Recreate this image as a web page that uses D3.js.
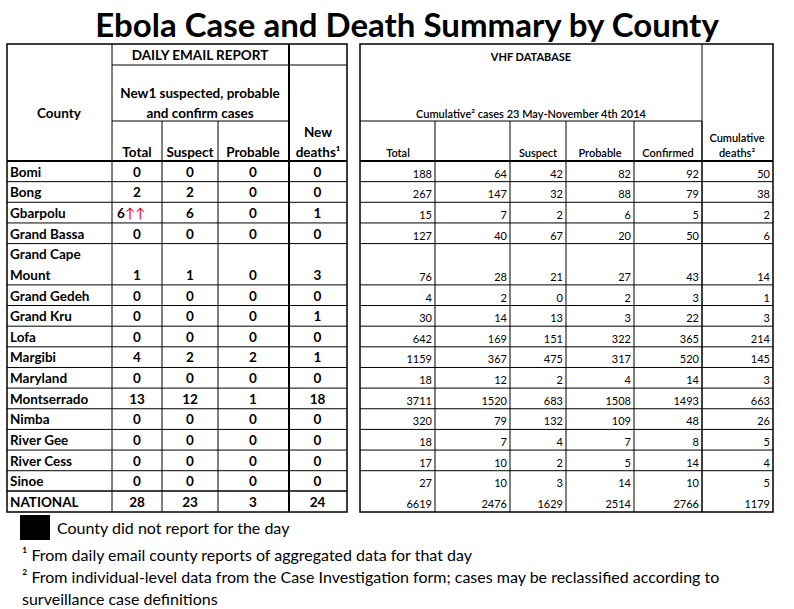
<!DOCTYPE html>
<html><head><meta charset="utf-8">
<script src="https://cdn.jsdelivr.net/npm/d3@7"></script>
<style>body{margin:0;background:#fff}svg{font-family:Lato,"Open Sans",sans-serif}</style>
</head><body>
<svg id="chart" width="794" height="609"></svg>
<script>
var counties = ["Bomi","Bong","Gbarpolu","Grand Bassa","Grand Cape Mount","Grand Gedeh","Grand Kru","Lofa","Margibi","Maryland","Montserrado","Nimba","River Gee","River Cess","Sinoe","NATIONAL"]
var rowSpans = [1,1,1,1,2,1,1,1,1,1,1,1,1,1,1,1]
var newTotal = [0,2,6,0,1,0,0,0,4,0,13,0,0,0,0,28]
var newSuspect = [0,2,6,0,1,0,0,0,2,0,12,0,0,0,0,23]
var newProbable = [0,0,0,0,0,0,0,0,2,0,1,0,0,0,0,3]
var newDeaths = [0,0,1,0,3,0,1,0,1,0,18,0,0,0,0,24]
var cumTotal = [188,267,15,127,76,4,30,642,1159,18,3711,320,18,17,27,6619]
var cumBlank = [64,147,7,40,28,2,14,169,367,12,1520,79,7,10,10,2476]
var cumSuspect = [42,32,2,67,21,0,13,151,475,2,683,132,4,2,3,1629]
var cumProbable = [82,88,6,20,27,2,3,322,317,4,1508,109,7,5,14,2514]
var cumConfirmed = [92,79,5,50,43,3,22,365,520,14,1493,48,8,14,10,2766]
var cumDeaths = [50,38,2,6,14,1,3,214,145,3,663,26,5,4,5,1179]

var svg = d3.select("#chart")

// row positions
var starts = [], acc = 0
rowSpans.forEach(function(s){ starts.push(acc); acc += s })
var y = d3.scaleLinear().domain([0, acc]).range([161, 512])

var leftEdges = [7,112,162,218,288,347]
var rightEdges = [360,435,510,566,634,702,773]

svg.append("text").attr("x",407).attr("y",37).attr("text-anchor","middle")
  .style("font-size","33px").style("font-weight","bold").text("Ebola Case and Death Summary by County")

function line(x1,y1,x2,y2,w){
  svg.append("line").attr("x1",x1).attr("y1",y1).attr("x2",x2).attr("y2",y2)
    .attr("stroke","#000").attr("stroke-width",w||1)
}

// left table frame
svg.append("rect").attr("x",7).attr("y",44).attr("width",340).attr("height",468).attr("fill","none").attr("stroke","#000").attr("stroke-width",1.5)
line(112,44,112,512); line(289,44,289,512,2)
line(112,65,347,65); line(112,121,289,121)
line(162,121,162,512); line(218,121,218,512)
line(7,161,347,161,2)
line(7,491,347,491,1.5)

// right table frame
svg.append("rect").attr("x",360).attr("y",44).attr("width",413).attr("height",468).attr("fill","none").attr("stroke","#000").attr("stroke-width",1.5)
line(702,44,702,512); line(360,121,702,121)
rightEdges.slice(1,-1).forEach(function(x){ line(x,121,x,512) })
line(360,161,773,161,2)

starts.forEach(function(s,i){
  if(i>0 && i<counties.length-1){ line(7,y(s),347,y(s)); line(360,y(s),773,y(s)) }
})

function ht(x,yy,t,size,anchor,bold){
  return svg.append("text").attr("x",x).attr("y",yy).attr("text-anchor",anchor||"middle")
    .style("font-size",size+"px").style("font-weight",bold?"bold":"normal").text(t)
}
// left headers
ht(59,118,"County",13.5,"middle",true)
ht(200,60,"DAILY EMAIL REPORT",13.5,"middle",true)
ht(200,98,"New1 suspected, probable",13.5,"middle",true)
ht(200,118,"and confirm cases",13.5,"middle",true)
ht(137,157,"Total",13.5,"middle",true)
ht(190,157,"Suspect",13.5,"middle",true)
ht(253,157,"Probable",13.5,"middle",true)
ht(318,137,"New",13.5,"middle",true)
ht(318,157,"deaths¹",13.5,"middle",true)

// right headers
ht(531,61,"VHF DATABASE",11,"middle",true)
ht(531,118,"Cumulative² cases 23 May-November 4th 2014",11,"middle",false).style("font-weight","600")
var rh = [[398,"Total"],[538,"Suspect"],[600,"Probable"],[668,"Confirmed"]]
rh.forEach(function(d){ ht(d[0],157,d[1],11,"middle",false).style("font-weight","600") })
svg.select("text:last-child")
ht(737,142,"Cumulative",11,"middle",false).style("font-weight","600")
ht(737,157,"deaths²",11,"middle",false).style("font-weight","600")

// body
var leftCols = [newTotal,newSuspect,newProbable,newDeaths]
var rightCols = [cumTotal,cumBlank,cumSuspect,cumProbable,cumConfirmed,cumDeaths]
counties.forEach(function(c,i){
  var yb = y(starts[i]+rowSpans[i]) - 5
  if(rowSpans[i]==2){
    ht(10,y(starts[i])+15,"Grand Cape",13.5,"start",true)
    ht(10,yb,"Mount",13.5,"start",true)
  } else ht(10,yb,c,13.5,"start",true)
  leftCols.forEach(function(arr,j){
    var cx = (leftEdges[j+1]+leftEdges[j+2])/2
    var t = ht(cx,yb,arr[i],13.5,"middle",true)
    if(c=="Gbarpolu" && j==0){
      t.attr("x",cx-6)
      t.append("tspan").attr("fill","#e00000").style("font-weight","normal").text("↑↑")
    }
  })
  rightCols.forEach(function(arr,j){
    ht(rightEdges[j+1]-3,yb+1,arr[i],11,"end",false)
  })
})

// legend and footnotes
svg.append("rect").attr("x",20).attr("y",515).attr("width",30).attr("height",25).attr("fill","#000")
ht(57,534,"County did not report for the day",16,"start",false)
ht(22,561,"¹ From daily email county reports of aggregated data for that day",16,"start",false)
ht(22,583,"² From individual-level data from the Case Investigation form; cases may be reclassified according to",16,"start",false)
ht(22,605,"surveillance case definitions",16,"start",false)
</script>
</body></html>
